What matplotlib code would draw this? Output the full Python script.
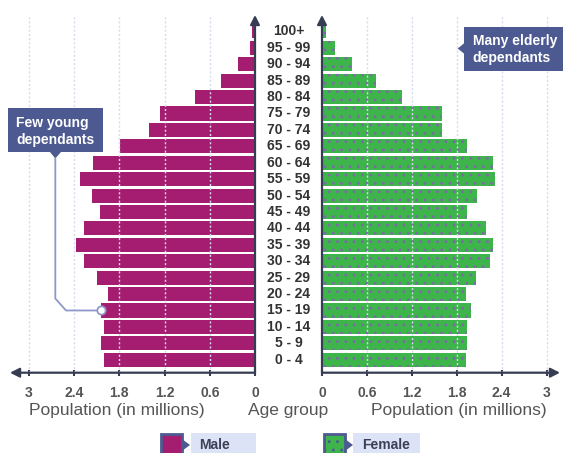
import matplotlib
matplotlib.use('Agg')
import matplotlib.pyplot as plt
from matplotlib.patches import Rectangle, Polygon
from matplotlib.lines import Line2D
from matplotlib.transforms import blended_transform_factory

# Schrift und Punktmuster der Frauen-Balken
plt.rcParams['font.family'] = ['Liberation Sans', 'DejaVu Sans']
plt.rcParams['hatch.color'] = '#7d6aa8'
plt.rcParams['hatch.linewidth'] = 0.9

# Daten (Millionen Personen je Altersgruppe)
age_groups = ['0 - 4', '5 - 9', '10 - 14', '15 - 19', '20 - 24', '25 - 29',
              '30 - 34', '35 - 39', '40 - 44', '45 - 49', '50 - 54', '55 - 59',
              '60 - 64', '65 - 69', '70 - 74', '75 - 79', '80 - 84', '85 - 89',
              '90 - 94', '95 - 99', '100+']
male = [2.00, 2.04, 2.00, 2.04, 1.95, 2.10, 2.27, 2.37, 2.27, 2.05, 2.16,
        2.32, 2.15, 1.79, 1.40, 1.26, 0.80, 0.45, 0.22, 0.06, 0.04]
female = [1.93, 1.94, 1.94, 1.99, 1.93, 2.06, 2.24, 2.29, 2.19, 1.94, 2.07,
          2.31, 2.29, 1.94, 1.60, 1.60, 1.07, 0.72, 0.40, 0.17, 0.05]
ticks = [0, 0.6, 1.2, 1.8, 2.4, 3]
tick_labels = ['0', '0.6', '1.2', '1.8', '2.4', '3']
young_group = '15 - 19'

#Farben
male_col = '#a51d70'
female_col = '#3db54a'
axis_col = '#363d52'
box_col = '#4d5a92'
label_box_col = '#dde3f6'
text_col = '#333333'

W, H = 563, 453
fig = plt.figure(figsize=(W / 100, H / 100), dpi=100)

#Umrechnung Pixel (von oben links) -> Figurkoordinaten
def px(x, y):
    return (x / W, 1 - y / H)

def rect(x0, y0, x1, y1, **kw):
    return Rectangle(px(x0, y1), (x1 - x0) / W, (y1 - y0) / H,
                     transform=fig.transFigure, **kw)

def tri(points, **kw):
    return Polygon([px(x, y) for x, y in points], closed=True,
                   transform=fig.transFigure, **kw)

ax_bottom, ax_top = 372.7, 15
ax_l = fig.add_axes([10 / W, (H - ax_bottom) / H, 245 / W, (ax_bottom - ax_top) / H])
ax_r = fig.add_axes([322 / W, (H - ax_bottom) / H, 238 / W, (ax_bottom - ax_top) / H])

y = list(range(len(age_groups)))

ax_l.barh(y, male, height=0.86, color=male_col, zorder=2)
ax_r.barh(y, female, height=0.86, color=female_col, hatch='..', zorder=2)

ax_l.set_xlim(3.25, 0)
ax_r.set_xlim(0, 3.18)

for ax, side in [(ax_l, 'l'), (ax_r, 'r')]:
    ax.set_ylim(-0.79, 21.0)
    ax.set_facecolor('none')
    for s in ax.spines.values():
        s.set_visible(False)
    ax.set_yticks([])
    ax.set_xticks(ticks)
    ax.set_xticklabels(tick_labels, fontsize=10, fontweight='bold', color='#555555')
    ax.tick_params(axis='x', direction='inout', length=5, width=1.5,
                   color=axis_col, pad=7)
    #gepunktete Gitterlinien über den Balken
    for t in ticks[1:]:
        ax.axvline(t, color='#d6dbee', lw=1, ls=(0, (1.5, 1.5)), zorder=3)
    #Achsen mit Pfeilen
    end = (0, 0) if side == 'l' else (1, 0)
    start = (1, 0) if side == 'l' else (0, 0)
    ax.annotate('', xy=end, xytext=start, xycoords='axes fraction',
                arrowprops=dict(arrowstyle='-|>,head_length=0.55,head_width=0.28',
                                color=axis_col, lw=1.6, shrinkA=0, shrinkB=0),
                annotation_clip=False)
    ax.annotate('', xy=(start[0], 1), xytext=start, xycoords='axes fraction',
                arrowprops=dict(arrowstyle='-|>,head_length=0.55,head_width=0.28',
                                color=axis_col, lw=1.6, shrinkA=0, shrinkB=0),
                annotation_clip=False)

#Altersgruppen in der Mitte
mid = blended_transform_factory(fig.transFigure, ax_l.transData)
for yi, lab in zip(y, age_groups):
    ax_l.text(288.5 / W, yi, lab, transform=mid, ha='center', va='center',
              fontsize=10, fontweight='bold', color=text_col, clip_on=False)

#Achsenbeschriftungen
lab_kw = dict(fontsize=12.5, color='#555555', ha='center', va='center')
fig.text(*px(117, 411), 'Population (in millions)', **lab_kw)
fig.text(*px(288.5, 411), 'Age group', **lab_kw)
fig.text(*px(459, 411), 'Population (in millions)', **lab_kw)

#Hinweis links: wenige junge Abhängige
fig.add_artist(rect(8.3, 108.3, 103.3, 152.3, facecolor=box_col, edgecolor='none'))
fig.add_artist(tri([(50, 152), (61, 152), (55.3, 158.5)], facecolor=box_col, edgecolor='none'))
fig.text(*px(16, 131.5), 'Few young\ndependants', color='white', fontsize=10,
         fontweight='bold', ha='left', va='center', linespacing=1.2)

yi = age_groups.index(young_group)
ex, ey = fig.transFigure.inverted().transform(ax_l.transData.transform((male[yi], yi)))
ey_px = (1 - ey) * H
pts = [px(55.3, 158.5), px(55.3, ey_px - 12), px(66, ey_px)]
xs = [p[0] for p in pts] + [ex]
ys = [p[1] for p in pts] + [ey]
fig.add_artist(Line2D(xs, ys, transform=fig.transFigure, color='#8f98c9', lw=1.3))
fig.add_artist(Line2D([ex], [ey], transform=fig.transFigure, marker='o', ms=6,
                      mfc='white', mec='#8f98c9', mew=1.3, zorder=5))

#Hinweis rechts: viele ältere Abhängige
fig.add_artist(rect(464.3, 27.3, 563, 70.7, facecolor=box_col, edgecolor='none'))
fig.add_artist(tri([(464.5, 43), (464.5, 54), (457.7, 48.5)], facecolor=box_col, edgecolor='none'))
fig.text(*px(472.7, 49.5), 'Many elderly\ndependants', color='white', fontsize=10,
         fontweight='bold', ha='left', va='center', linespacing=1.2)

#Legende
fig.add_artist(rect(191, 433, 256, 456, facecolor=label_box_col, edgecolor='none'))
fig.add_artist(rect(161, 434, 182, 456, facecolor=male_col, edgecolor=box_col, lw=2))
fig.add_artist(tri([(182, 439), (190, 445), (182, 451)], facecolor=box_col, edgecolor='none'))
fig.text(*px(199, 445), 'Male', fontsize=10, fontweight='bold', color='#3b4058',
         ha='left', va='center')

fig.add_artist(rect(353, 433, 420, 456, facecolor=label_box_col, edgecolor='none'))
fig.add_artist(rect(324, 434, 345, 456, facecolor=female_col, edgecolor=box_col, lw=2, hatch='..'))
fig.add_artist(tri([(345, 439), (353, 445), (345, 451)], facecolor=box_col, edgecolor='none'))
fig.text(*px(362, 445), 'Female', fontsize=10, fontweight='bold', color='#3b4058',
         ha='left', va='center')

fig.savefig('out.png', dpi=100)
